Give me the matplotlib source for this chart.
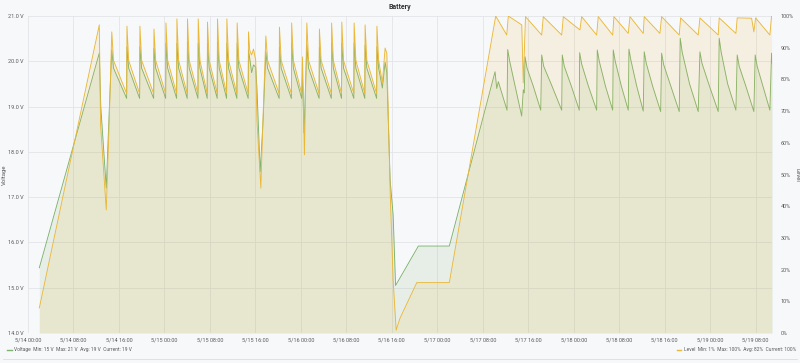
import numpy as np
import pandas as pd
import matplotlib
matplotlib.use("Agg")
import matplotlib.pyplot as plt
import matplotlib.dates as mdates
from matplotlib.ticker import FuncFormatter, FixedLocator
from matplotlib.lines import Line2D

# hours since 5/14 00:00
volt_hours = [
    1.99, 12.54, 12.80, 13.77, 14.30,
    14.74, 15.04, 17.36, 17.41, 17.71, 19.64, 19.69, 19.99, 22.11,
    22.16, 22.46, 24.22, 24.27, 24.57, 26.15, 26.20, 26.50, 28.01,
    28.06, 28.36, 29.90, 29.95, 30.25, 31.53, 31.58, 31.88, 33.29,
    33.34, 33.64, 34.94, 34.99, 35.29, 36.75, 36.80, 37.10, 38.74,
    38.79, 39.00, 39.35, 39.67, 40.06, 40.28, 40.85, 41.37,
    41.85, 42.15, 44.19, 44.24, 44.54, 46.34, 46.39, 46.69, 48.15,
    48.29, 48.56, 49.06, 49.36, 51.22, 51.27, 51.57, 53.37,
    53.42, 53.72, 55.16, 55.21, 55.51, 57.33, 57.38, 57.68, 59.26,
    59.31, 59.61, 61.34, 61.39, 61.69, 62.35, 62.83, 63.13,
    63.71, 64.24, 64.67, 65.46, 68.68, 74.13,
    82.17, 82.47, 82.75, 84.28,
    84.40, 84.75, 85.70, 86.86, 87.14, 87.32,
    87.45, 87.80, 88.90, 90.21,
    90.38, 90.73, 92.20, 93.90,
    94.00, 94.35, 95.60, 96.99,
    97.06, 97.41, 98.60, 100.05,
    100.16, 100.51, 101.60, 102.87,
    102.97, 103.32, 104.40, 105.61,
    105.73, 106.08, 107.10, 108.25,
    108.42, 108.77, 109.90, 111.31,
    111.48, 111.83, 113.10, 114.58,
    114.75, 115.10, 116.40, 117.92,
    118.22, 118.57, 119.90, 121.44,
    121.61, 121.96, 123.10, 124.55,
    124.78, 125.13, 126.30, 127.71,
    127.94, 128.29, 129.30, 130.53,
    130.82, 130.95,
]
volt_values = [
    15.44, 20.18, 19.00, 17.20, 18.92,
    20.25, 19.85, 19.18, 20.32, 19.85, 19.18, 20.32, 19.85, 19.18,
    20.29, 19.85, 19.18, 20.40, 19.85, 19.18, 20.40, 19.85, 19.18,
    20.43, 19.85, 19.18, 20.40, 19.85, 19.18, 20.40, 19.85, 19.18,
    20.43, 19.85, 19.18, 20.40, 19.85, 19.18, 20.40, 19.85, 19.18,
    20.25, 20.07, 19.75, 19.92, 19.87, 19.40, 17.56, 18.70,
    20.21, 19.85, 19.18, 20.32, 19.85, 19.18, 20.40, 19.85, 19.18,
    19.70, 18.42, 20.36, 19.85, 19.18, 20.32, 19.85, 19.18,
    20.40, 19.85, 19.18, 20.40, 19.85, 19.18, 20.40, 19.85, 19.18,
    20.36, 19.85, 19.18, 20.32, 19.85, 19.41, 19.98, 19.75,
    17.38, 16.61, 15.05, 15.22, 15.92, 15.92,
    19.77, 19.40, 19.55, 18.92,
    20.26, 20.00, 19.45, 18.79, 19.37, 19.30,
    20.10, 19.85, 19.45, 18.92,
    20.14, 19.89, 19.45, 18.92,
    20.14, 19.89, 19.45, 18.92,
    20.19, 19.94, 19.45, 18.92,
    20.25, 20.00, 19.45, 18.92,
    20.25, 20.00, 19.45, 18.92,
    20.27, 20.02, 19.45, 18.90,
    20.21, 19.96, 19.45, 18.89,
    20.18, 19.93, 19.45, 18.89,
    20.51, 20.20, 19.50, 18.89,
    20.21, 19.96, 19.45, 18.89,
    20.51, 20.20, 19.50, 18.92,
    20.14, 19.89, 19.45, 18.89,
    20.14, 19.89, 19.45, 18.92,
    20.18, 19.95,
]

level_hours = [
    1.99, 12.54, 12.77, 13.77, 14.30,
    14.74, 15.04, 17.36, 17.41, 17.71, 19.64, 19.69, 19.99, 22.11,
    22.16, 22.46, 24.22, 24.27, 24.57, 26.15, 26.20, 26.50, 28.01,
    28.06, 28.36, 29.90, 29.95, 30.25, 31.53, 31.58, 31.88, 33.29,
    33.34, 33.64, 34.94, 34.99, 35.29, 36.75, 36.80, 37.10, 38.74,
    38.79, 39.00, 39.35, 39.67, 40.06, 40.28, 40.97, 41.37,
    41.85, 42.15, 44.19, 44.24, 44.54, 46.34, 46.39, 46.69, 48.15,
    48.29, 48.64, 49.06, 49.36, 51.22, 51.27, 51.57, 53.37,
    53.42, 53.72, 55.16, 55.21, 55.51, 57.33, 57.38, 57.68, 59.26,
    59.31, 59.61, 61.34, 61.39, 61.69, 62.35, 62.83, 63.13,
    63.71, 64.24, 64.77, 65.46, 68.40, 74.13,
    82.29, 84.23, 84.51, 86.87, 87.14, 87.53, 90.38, 90.66, 93.90,
    94.18, 97.11, 97.41, 100.05, 100.33, 102.87, 103.09, 105.61,
    105.91, 108.25, 108.42, 111.18, 111.48, 114.58, 114.82, 117.92,
    118.22, 121.44, 121.61, 124.55, 124.78, 127.31, 127.71, 128.01,
    130.53, 130.82,
]
level_values = [
    7.9, 97.2, 65.6, 38.8, 67.2,
    95.0, 86.0, 75.5, 96.8, 86.0, 75.5, 96.8, 86.0, 75.5,
    95.9, 86.0, 75.5, 97.8, 86.0, 75.5, 99.1, 86.0, 75.5,
    99.1, 86.0, 75.5, 99.1, 86.0, 75.5, 98.1, 86.0, 75.5,
    99.1, 86.0, 75.5, 99.1, 86.0, 75.5, 97.8, 86.0, 75.5,
    95.0, 89.3, 87.7, 89.6, 86.1, 67.2, 45.7, 68.8,
    93.7, 86.0, 75.5, 96.5, 86.0, 75.5, 97.8, 86.0, 75.5,
    87.1, 56.2, 97.8, 86.0, 75.5, 95.9, 86.0, 75.5,
    97.8, 86.0, 75.5, 98.1, 86.0, 75.5, 97.8, 86.0, 75.5,
    97.2, 86.0, 75.5, 96.8, 86.0, 78.9, 89.9, 88.2,
    45.1, 16.7, 0.9, 4.7, 15.9, 15.9,
    100.0, 94.0, 100.0, 97.2, 78.9, 99.8, 94.0, 99.8, 94.0,
    99.8, 95.6, 99.8, 94.0, 99.8, 94.0, 99.8, 94.5,
    99.8, 94.5, 99.8, 94.5, 99.8, 94.0, 99.4, 94.0,
    99.4, 94.0, 99.4, 94.5, 99.4, 99.3, 95.0, 99.4,
    94.0, 100.0,
]

voltage_legend = "Voltage  Min: 15 V  Max: 21 V  Avg: 19 V  Current: 19 V"
level_legend = "Level  Min: 1%  Max: 100%  Avg: 82%  Current: 100%"

green = "#7eb26d"
yellow = "#eab839"
bg = "#f7f8fa"
txt = "#5a5a5a"

base = pd.Timestamp("2019-05-14 00:00")
vt = base + pd.to_timedelta(volt_hours, unit="h")
lt = base + pd.to_timedelta(level_hours, unit="h")

plt.rcParams["font.family"] = ["Roboto", "DejaVu Sans"]

fig = plt.figure(figsize=(8, 3.63), dpi=100, facecolor=bg)
ax = fig.add_axes([0.035, 0.0826, 0.93, 0.8733])
ax.set_facecolor(bg)
ax2 = ax.twinx()

ax.fill_between(vt, volt_values, 14, color=green, alpha=0.13, lw=0)
ax.plot(vt, volt_values, color=green, lw=0.65)
ax2.fill_between(lt, level_values, 0, color=yellow, alpha=0.13, lw=0)
ax2.plot(lt, level_values, color=yellow, lw=0.65)

ax.set_ylim(14, 21)
ax2.set_ylim(0, 100)
ax.set_xlim(base, base + pd.Timedelta(hours=130.9))

ax.set_yticks(np.arange(14, 21.1, 1))
ax.yaxis.set_major_formatter(FuncFormatter(lambda v, p: f"{v:.1f} V"))
ax2.set_yticks(np.arange(0, 101, 10))
ax2.yaxis.set_major_formatter(FuncFormatter(lambda v, p: f"{v:.0f}%"))

xt = [base + pd.Timedelta(hours=h) for h in range(0, 129, 8)]
ax.xaxis.set_major_locator(FixedLocator(mdates.date2num(xt)))
ax.xaxis.set_major_formatter(FuncFormatter(
    lambda v, p: (lambda d: f"{d.month}/{d.day} {d:%H:%M}")(mdates.num2date(v))))

for a in (ax, ax2):
    for s in a.spines.values():
        s.set_visible(False)
    a.tick_params(length=0, labelsize=4.0, colors=txt)
ax.tick_params(axis="y", pad=3)
ax.tick_params(axis="x", pad=3)
ax2.tick_params(axis="y", pad=6)
ax.grid(True, color="#e3e4e8", lw=0.6)
ax.set_axisbelow(True)

ax.set_ylabel("Voltage", fontsize=4.3, color=txt)
ax.yaxis.set_label_coords(-0.029, 0.5)
ax2.set_ylabel("Level", fontsize=4.3, color=txt, rotation=270, va="center")
ax2.yaxis.set_label_coords(1.033, 0.5)
fig.text(0.5, 0.98, "Battery", ha="center", va="center", fontsize=5,
         color="#333333", fontweight="bold")

# legends along the bottom
fig.legend(handles=[Line2D([], [], color=green, lw=1)], labels=[voltage_legend],
           loc="center left", bbox_to_anchor=(0.006, 0.036), frameon=False,
           fontsize=3.5, handlelength=0.9, handletextpad=0.5, borderpad=0,
           labelcolor=txt)
fig.legend(handles=[Line2D([], [], color=yellow, lw=1)], labels=[level_legend],
           loc="center right", bbox_to_anchor=(0.998, 0.036), frameon=False,
           fontsize=3.5, handlelength=0.9, handletextpad=0.5, borderpad=0,
           labelcolor=txt)
fig.add_artist(Line2D([0.004, 0.996], [0.012, 0.012], color="#dcdde0", lw=0.6))

fig.savefig("out.png", dpi=100, facecolor=bg)
